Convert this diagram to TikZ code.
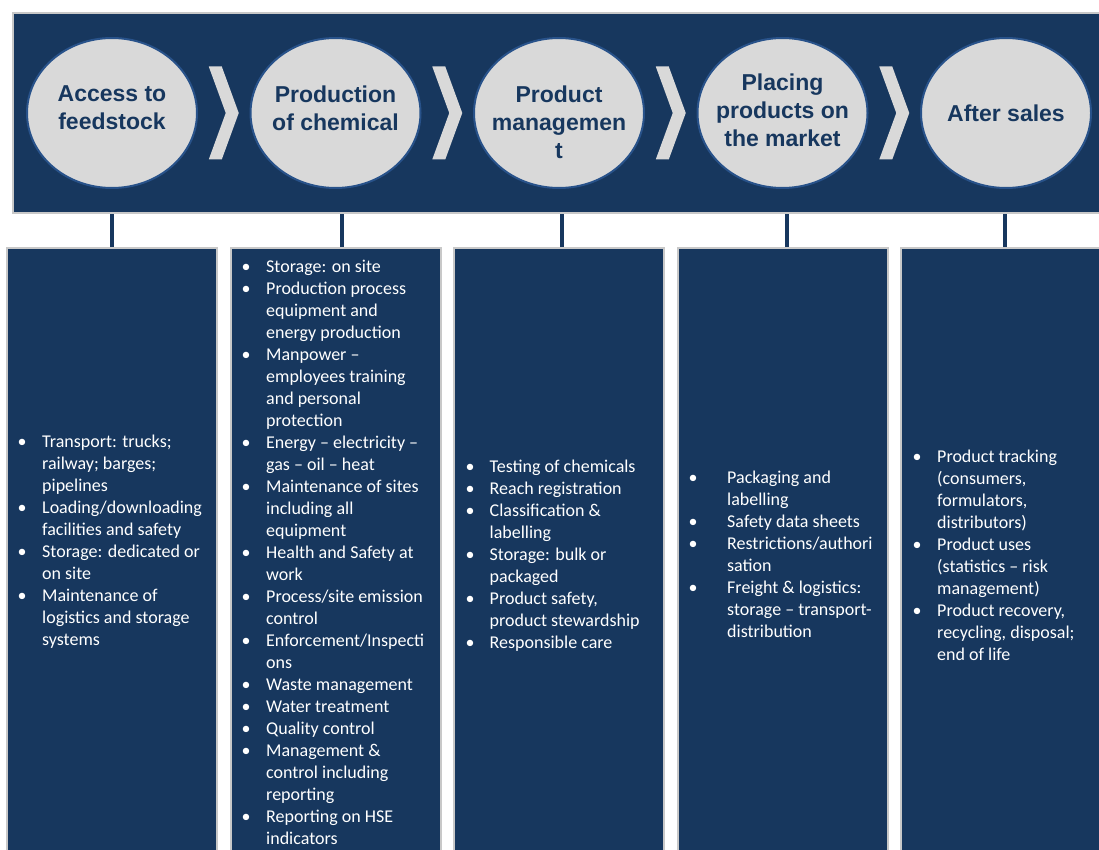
\documentclass[tikz,border=0pt]{standalone}
\usepackage{fontspec}
\setmainfont{Carlito}
\newfontfamily\headfont{Liberation Sans}
\usepackage{tikz}
\usetikzlibrary{positioning,calc,shapes.geometric}

\definecolor{navy}{RGB}{23,55,94}
\definecolor{ringblue}{RGB}{40,82,138}
\definecolor{lightgrey}{RGB}{217,217,217}
\definecolor{panelgrey}{RGB}{200,200,200}

\newcommand{\blt}{\makebox[0pt]{\textbullet}}
\newcommand{\bulletlist}[2]{\begin{tabular}[t]{@{}p{#1}@{}l@{}}#2\end{tabular}}

\begin{document}
\begin{tikzpicture}[x=1pt, y=-1pt, node distance = 223.5pt and 223.5pt, on grid,
                    stage/.style     = {ellipse,
                                        draw = ringblue,
                                        line width = 2pt,
                                        fill = lightgrey,
                                        minimum width = 170pt,
                                        minimum height = 150pt,
                                        inner sep = 0pt},
                    stagetext/.style = {align = center,
                                        text = navy,
                                        inner sep = 0pt,
                                        font = \headfont\bfseries\fontsize{23}{28}\selectfont},
                    banner/.style    = {rectangle,
                                        draw = panelgrey,
                                        line width = 2pt,
                                        fill = navy,
                                        inner sep = 0pt},
                    panel/.style     = {rectangle,
                                        draw = panelgrey,
                                        line width = 2pt,
                                        fill = navy,
                                        minimum width = 210pt,
                                        minimum height = 610pt,
                                        inner sep = 0pt},
                    items/.style     = {anchor = base west,
                                        inner sep = 0pt,
                                        text = white,
                                        font = \fontsize{18}{22}\selectfont},
                    link/.style      = {draw = navy, line width = 4pt},
                    chevron/.pic     = {\fill[lightgrey] (-15,-46.5) -- (-2,-46.5) -- (15,0)
                                        -- (-2,46.5) -- (-15,46.5) -- (2,0) -- cycle;}]

\clip (0,0) rectangle (1099,850);
\fill[white] (0,0) rectangle (1099,850);

% top band with the five stages
\node[banner, anchor = north west, minimum width = 1100pt, minimum height = 200pt]
      (banner) at (12,12) {};

\node[stage] (s1) at (112,113) {};
\node[stage] (s2) [right = of s1] {};
\node[stage] (s3) [right = of s2] {};
\node[stage] (s4) [right = of s3] {};
\node[stage] (s5) [right = of s4] {};

\node[stagetext] (l1) at ([yshift = 5pt]s1) {Access to\\feedstock};
\node[stagetext] (l2) at ([yshift = 5pt]s2) {Production\\of chemical};
\node[stagetext] (l3) at ([yshift = -9pt]s3) {Product\\managemen\\t};
\node[stagetext] (l4) at ([yshift = 2.5pt]s4) {Placing\\products on\\the market};
\node[stagetext] (l5) at (s5) {After sales};

\foreach \a/\b in {s1/s2, s2/s3, s3/s4, s4/s5}
  \path ($(\a.east)!0.5!(\b.west)$) pic {chevron};

% detail panels
\node[panel] (b1) [below = 440pt of s1] {};
\node[panel] (b2) [below = 440pt of s2] {};
\node[panel] (b3) [below = 440pt of s3] {};
\node[panel] (b4) [below = 440pt of s4] {};
\node[panel] (b5) [below = 440pt of s5] {};

\foreach \i/\dx in {1/0, 2/6, 3/3, 4/4, 5/-1}
  \draw[link] ($(b\i.north)+(\dx,0)$) -- ($(b\i.north |- banner.south)+(\dx,0)$);

\node[items] (t1) at (22,447) {\bulletlist{20pt}{%
  \blt & Transport: trucks;\\ & railway; barges;\\ & pipelines\\
  \blt & Loading/downloading\\ & facilities and safety\\
  \blt & Storage: dedicated or\\ & on site\\
  \blt & Maintenance of\\ & logistics and storage\\ & systems}};

\node[items] (t2) at (246,272) {\bulletlist{20pt}{%
  \blt & Storage: on site\\
  \blt & Production process\\ & equipment and\\ & energy production\\
  \blt & Manpower –\\ & employees training\\ & and personal\\ & protection\\
  \blt & Energy – electricity –\\ & gas – oil – heat\\
  \blt & Maintenance of sites\\ & including all\\ & equipment\\
  \blt & Health and Safety at\\ & work\\
  \blt & Process/site emission\\ & control\\
  \blt & Enforcement/Inspecti\\ & ons\\
  \blt & Waste management\\
  \blt & Water treatment\\
  \blt & Quality control\\
  \blt & Management \&\\ & control including\\ & reporting\\
  \blt & Reporting on HSE\\ & indicators}};

\node[items] (t3) at (470,472) {\bulletlist{19.5pt}{%
  \blt & Testing of chemicals\\
  \blt & Reach registration\\
  \blt & Classification \&\\ & labelling\\
  \blt & Storage: bulk or\\ & packaged\\
  \blt & Product safety,\\ & product stewardship\\
  \blt & Responsible care}};

\node[items] (t4) at (693,483) {\bulletlist{34pt}{%
  \blt & Packaging and\\ & labelling\\
  \blt & Safety data sheets\\
  \blt & Restrictions/authori\\ & sation\\
  \blt & Freight \& logistics:\\ & storage – transport-\\ & distribution}};

\node[items] (t5) at (917,462) {\bulletlist{20pt}{%
  \blt & Product tracking\\ & (consumers,\\ & formulators,\\ & distributors)\\
  \blt & Product uses\\ & (statistics – risk\\ & management)\\
  \blt & Product recovery,\\ & recycling, disposal;\\ & end of life}};

\end{tikzpicture}
\end{document}
